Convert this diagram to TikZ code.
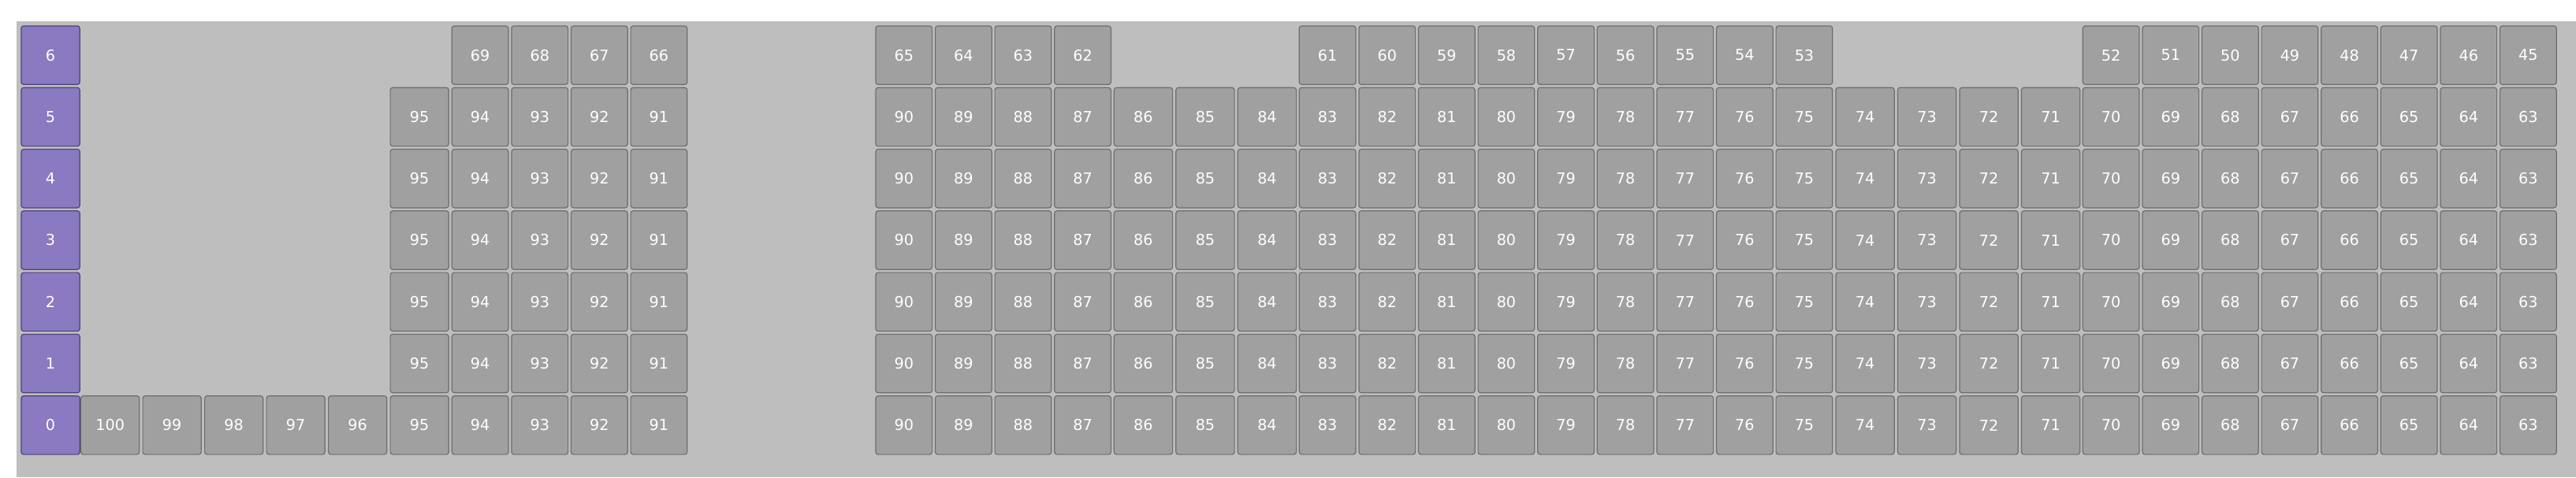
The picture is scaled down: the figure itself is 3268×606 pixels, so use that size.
\documentclass[tikz,border=0pt]{standalone}
\usepackage{fontspec}
\setmainfont{DejaVu Sans}
\definecolor{bgcol}{HTML}{BEBEBE}
\definecolor{cellfill}{HTML}{A0A0A0}
\definecolor{celldraw}{HTML}{6E6E6E}
\definecolor{pfill}{HTML}{8A7AC2}
\definecolor{pdraw}{HTML}{4E4478}
\begin{document}
\begin{tikzpicture}[x=0.5pt,y=-0.5pt,
  cellbase/.style={draw, line width=0.6pt, rounded corners=1.6pt, anchor=north west,
    inner sep=0pt, minimum height=37.2pt, text=white, font=\fontsize{9.6}{11}\selectfont},
  gcell/.style={cellbase, fill=cellfill, draw=celldraw},
  pcell/.style={cellbase, fill=pfill, draw=pdraw, minimum width=37.2pt},
  ]
\useasboundingbox (0,0) rectangle (3268,606);
\fill[white] (0,0) rectangle (3268,606);
\fill[bgcol] (21,27) rectangle (3268,606);
% purple row headers
\foreach \r in {0,...,6} {
  \node[pcell] (p\r) at (26.3, {32.3+(6-\r)*78.3}) {\r};
}
% left block, wide columns 1..6
\foreach \c in {1,...,6} {
  \pgfmathtruncatemacro\lab{101-\c}
  \node[gcell, minimum width=37.1pt] (L0-\c) at ({102+(\c-1)*78.5}, {32.3+6*78.3}) {\lab};
}
\foreach \r in {1,...,5} {
  \node[gcell, minimum width=37.1pt] (L\r-6) at (494.5, {32.3+(6-\r)*78.3}) {95};
}
% left block, narrow columns 7..10
\foreach \c in {7,...,10} {
  \foreach \r in {0,...,6} {
    \ifnum\r=6
      \pgfmathtruncatemacro\lab{76-\c}
    \else
      \pgfmathtruncatemacro\lab{101-\c}
    \fi
    \node[gcell, minimum width=35.85pt] (L\r-\c) at ({572.7+(\c-7)*75.6}, {32.3+(6-\r)*78.3}) {\lab};
  }
}
% right block
\foreach \x/\w [count=\i from 0] in {1110.3/35.85,1185.9/35.85,1261.5/35.85,1337.1/35.85,
  1412.7/37.15,1491.2/37.15,1569.7/37.15,
  1647.7/35.85,1723.3/35.85,1798.9/35.85,1874.5/35.85,1950.1/35.85,2025.7/35.85,2101.3/35.85,2176.9/35.85,2252.5/35.85,
  2328.3/37.15,2406.8/37.15,2485.3/37.15,2563.8/37.15,
  2641.7/35.85,2717.3/35.85,2792.9/35.85,2868.5/35.85,2944.1/35.85,3019.7/35.85,3095.3/35.85,3170.9/35.85} {
  \foreach \r in {0,...,5} {
    \pgfmathtruncatemacro\lab{90-\i}
    \node[gcell, minimum width=\w pt] (R\r-\i) at (\x, {32.3+(6-\r)*78.3}) {\lab};
  }
  \ifnum\i<4
    \pgfmathtruncatemacro\lab{65-\i}
    \node[gcell, minimum width=\w pt] (R6-\i) at (\x, 32.3) {\lab};
  \fi
  \ifnum\i>6 \ifnum\i<16
    \pgfmathtruncatemacro\lab{68-\i}
    \node[gcell, minimum width=\w pt] (R6-\i) at (\x, 32.3) {\lab};
  \fi\fi
  \ifnum\i>19
    \pgfmathtruncatemacro\lab{72-\i}
    \node[gcell, minimum width=\w pt] (R6-\i) at (\x, 32.3) {\lab};
  \fi
}
\end{tikzpicture}
\end{document}
